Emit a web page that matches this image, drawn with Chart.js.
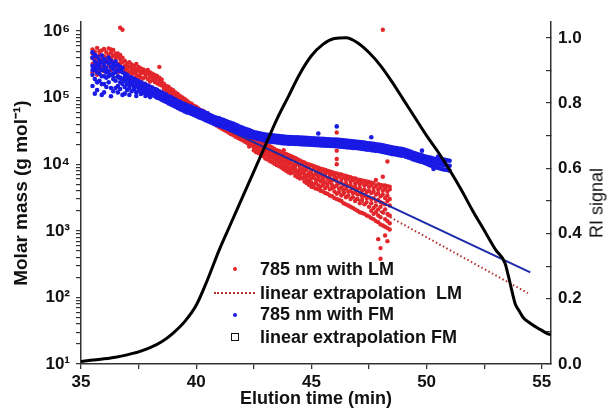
<!DOCTYPE html>
<html><head><meta charset="utf-8">
<script src="https://cdn.jsdelivr.net/npm/chart.js@4.4.1/dist/chart.umd.min.js"></script>
<style>
html,body{margin:0;padding:0;background:#fff;}
#wrap{position:relative;width:611px;height:410px;overflow:hidden;}
#c{position:absolute;left:0;top:0;}
.txt{position:absolute;font-family:"Liberation Sans",Arial,sans-serif;color:#111;white-space:pre;}
.lg{font-weight:bold;font-size:18px;line-height:20px;}
.mk{position:absolute;}
</style></head>
<body><div id="wrap"><canvas id="c" width="611" height="410"></canvas>
<div class="txt lg" style="left:260px;top:259px">785 nm with LM</div>
<div class="txt lg" style="left:260px;top:283px">linear extrapolation  LM</div>
<div class="txt lg" style="left:260px;top:304px">785 nm with FM</div>
<div class="txt lg" style="left:260px;top:327px">linear extrapolation FM</div>
<div class="mk" style="left:233px;top:267px;width:4px;height:4px;border-radius:2px;background:#e3262b"></div>
<div class="mk" style="left:214px;top:292px;width:41px;height:0;border-top:2px dotted #b0302a"></div>
<div class="mk" style="left:233px;top:313px;width:4px;height:4px;border-radius:2px;background:#1a1ae6"></div>
<div class="mk" style="left:231px;top:333px;width:6px;height:6px;border:1.3px solid #111"></div>
<div class="txt" id="riTitle" style="left:597px;top:203px;font-size:18px;transform:translate(-50%,-50%) rotate(-90deg);">RI signal</div>
</div>
<script>
// ---- data ----
// Elution time (min) and molar mass (g/mol); each row: [time, mass, mass, ...]
const lmRows = [
[35.5,3.2e5,4.6e5,2.4e5,5.3e5,3.9e5],[35.6,3.8e5,2.7e5,4.9e5,3.3e5],[35.7,3.5e5,2.2e5,5.6e5,4.1e5,2.9e5],[35.8,3.0e5,4.4e5,2.6e5,5.0e5],
[35.9,3.7e5,5.1e5,2.9e5,4.3e5],[36.0,4.2e5,3.3e5,2.5e5,5.4e5],[36.1,3.6e5,4.8e5,2.7e5,4.0e5],[36.2,4.4e5,3.1e5,5.5e5,3.7e5],
[36.3,3.9e5,2.6e5,4.7e5,5.3e5],[36.4,4.3e5,3.4e5,5.2e5,2.9e5],[36.5,3.7e5,4.6e5,2.8e5,4.1e5],[36.6,4.1e5,3.2e5,2.4e5,4.6e5],
[36.7,3.8e5,4.4e5,2.9e5,1.12e6,3.3e5],[36.8,3.4e5,4.0e5,2.6e5,1.05e6],[36.9,3.0e5,3.6e5,2.5e5,2.8e5],[37.0,3.3e5,2.7e5,2.3e5,2.95e5],
[37.1,2.9e5,3.4e5,2.45e5],[37.2,2.75e5,3.15e5,2.2e5,2.5e5],[37.3,3.0e5,2.6e5,2.35e5],[37.4,2.7e5,3.2e5,2.1e5,2.45e5],
[37.5,2.55e5,2.9e5,2.15e5],[37.6,2.75e5,2.3e5,2.0e5,2.5e5],[37.7,2.4e5,2.65e5,1.95e5],[37.8,2.55e5,2.2e5,2.05e5,2.35e5],
[37.9,2.3e5,2.6e5,1.9e5],[38.0,2.25e5,2.05e5,1.75e5,2.4e5],[38.1,2.1e5,2.3e5,1.85e5],[38.2,1.95e5,2.2e5,1.72e5,2.08e5],
[38.3,1.9e5,2.12e5,1.65e5],[38.4,1.8e5,2.0e5,2.9e5,1.58e5,1.92e5],[38.5,1.72e5,1.88e5,1.52e5],[38.6,1.62e5,1.48e5,1.36e5,1.55e5],
[38.7,1.5e5,1.42e5,1.27e5],[38.8,1.46e5,1.32e5,1.2e5,1.38e5],[38.9,1.35e5,1.26e5,1.13e5],[39.0,1.3e5,1.18e5,1.06e5,1.24e5],
[39.1,1.2e5,1.12e5,9.8e4],[39.2,1.14e5,1.02e5,9.3e4,1.08e5],[39.3,1.06e5,9.7e4,8.8e4],[39.4,1.01e5,9.1e4,8.4e4,9.5e4],
[39.5,9.6e4,8.5e4,7.9e4],[39.6,9.0e4,8.2e4,7.4e4,8.6e4],[39.7,8.4e4,7.8e4,7.0e4],[39.8,8.1e4,7.3e4,6.8e4,7.6e4],
[39.9,7.6e4,6.9e4,6.3e4],[40.0,7.3e4,6.7e4,6.0e4,7.0e4],[40.1,6.9e4,6.3e4,5.7e4],[40.2,6.5e4,6.0e4,5.4e4,6.2e4],
[40.3,6.3e4,5.6e4,5.1e4],[40.4,5.9e4,5.4e4,4.9e4,5.6e4],[40.5,5.7e4,5.1e4,4.7e4],[40.6,5.4e4,4.9e4,4.4e4,5.2e4],
[40.7,5.1e4,4.6e4,4.2e4],[40.8,4.9e4,4.4e4,4.0e4,4.65e4],[40.9,4.7e4,4.2e4,3.8e4],[41.0,4.5e4,4.0e4,3.6e4,4.3e4],
[41.1,4.2e4,3.8e4,3.45e4],[41.2,4.0e4,3.6e4,3.3e4,3.85e4],[41.3,3.9e4,3.5e4,3.15e4],[41.4,3.7e4,3.35e4,3.0e4,3.5e4],
[41.5,3.5e4,3.2e4,2.85e4],[41.6,3.4e4,3.05e4,2.75e4,3.2e4],[41.7,3.25e4,2.95e4,2.6e4],[41.8,3.1e4,2.8e4,2.5e4,2.95e4],
[41.9,3.0e4,2.7e4,2.4e4],[42.0,2.9e4,2.6e4,2.3e4,2.75e4],[42.1,2.8e4,2.5e4,2.2e4],[42.2,2.7e4,2.4e4,2.1e4,2.55e4],
[42.3,2.6e4,2.3e4,2.0e4,1.85e4],[42.4,2.5e4,2.25e4,1.95e4,2.1e4],
[42.5,2.45e4,2.2e4,1.95e4,1.8e4,1.62e4],[42.6,2.38e4,2.05e4,1.9e4,1.68e4,1.52e4],[42.7,2.28e4,2.12e4,1.83e4,1.6e4,1.47e4],
[42.8,2.1e4,1.98e4,1.77e4,1.55e4,1.4e4,2.24e4],[42.9,2.15e4,1.88e4,1.7e4,1.45e4,1.33e4],[43.0,1.98e4,1.75e4,1.56e4,1.43e4,1.22e4,1.85e4],
[43.1,1.92e4,1.64e4,1.51e4,1.36e4,1.18e4],[43.2,1.86e4,1.72e4,1.48e4,1.3e4,1.12e4,1.24e4],[43.3,1.79e4,1.57e4,1.4e4,1.27e4,1.07e4],
[43.4,1.7e4,1.6e4,1.35e4,1.19e4,1.02e4,1.45e4],[43.5,1.63e4,1.44e4,1.28e4,1.13e4,9.7e3],[43.6,1.58e4,1.49e4,1.22e4,1.06e4,9.3e3,1.35e4],
[43.7,1.52e4,1.33e4,1.17e4,1.02e4,8.9e3],[43.8,1.62e4,1.41e4,1.26e4,1.1e4,9.6e3,8.4e3],[43.9,1.43e4,1.21e4,1.07e4,9.2e3,8.0e3],
[44.0,1.38e4,1.28e4,1.1e4,9.9e3,8.6e3,7.6e3],[44.1,1.33e4,1.16e4,1.04e4,8.9e3,7.9e3,7.3e3],[44.2,1.29e4,1.2e4,9.8e3,8.7e3,7.5e3],
[44.3,1.24e4,1.09e4,9.4e3,8.3e3,7.7e3,6.7e3],[44.4,1.19e4,1.13e4,1.0e4,8.0e3,7.0e3,6.4e3],[44.5,1.14e4,9.7e3,8.8e3,7.6e3,6.6e3,6.1e3],
[44.6,1.09e4,1.01e4,8.4e3,7.3e3,6.2e3],[44.7,1.06e4,9.3e3,8.0e3,7.1e3,6.4e3,5.5e3],[44.8,1.02e4,9.6e3,8.5e3,6.8e3,5.9e3,5.2e3],
[44.9,9.9e3,8.9e3,7.4e3,6.6e3,5.6e3,4.9e3],[45.0,9.7e3,8.1e3,7.2e3,6.1e3,5.3e3,4.6e3],[45.1,9.4e3,8.6e3,6.9e3,6.3e3,5.0e3,4.5e3],
[45.2,9.1e3,7.8e3,7.1e3,5.8e3,5.2e3,4.3e3],[45.3,8.9e3,8.2e3,6.6e3,5.9e3,4.8e3,4.2e3],[45.4,8.6e3,7.5e3,6.8e3,5.5e3,4.6e3,4.0e3],
[45.5,8.4e3,7.9e3,6.3e3,5.7e3,4.9e3,3.9e3],[45.6,8.2e3,7.2e3,6.5e3,5.3e3,4.4e3,3.7e3],[45.7,8.0e3,7.6e3,6.0e3,5.1e3,4.7e3,3.6e3],
[45.8,7.8e3,6.9e3,6.2e3,5.4e3,4.2e3,3.4e3],[45.9,7.6e3,7.1e3,5.7e3,4.9e3,4.4e3,3.3e3],[46.0,7.4e3,6.6e3,5.9e3,4.6e3,3.9e3,3.1e3],
[46.1,7.3e3,6.2e3,5.5e3,4.8e3,3.6e3,3.0e3,3.0e4,2.3e4,1.6e4,1.2e4,1.0e4],
[46.2,7.1e3,6.7e3,5.2e3,4.3e3,3.8e3,2.9e3],[46.3,7.0e3,6.0e3,5.4e3,4.5e3,3.4e3,2.8e3],[46.4,6.8e3,6.3e3,4.9e3,4.1e3,3.6e3,2.6e3],
[46.5,6.7e3,5.8e3,5.1e3,4.3e3,3.2e3,2.5e3],[46.6,6.5e3,6.1e3,4.7e3,3.9e3,3.4e3,2.4e3],[46.7,6.4e3,5.5e3,4.9e3,4.0e3,3.0e3,2.3e3],
[46.8,6.2e3,5.8e3,4.5e3,3.7e3,3.2e3,2.2e3],[46.9,6.1e3,5.2e3,4.6e3,3.8e3,2.8e3,2.1e3],[47.0,5.9e3,5.5e3,4.2e3,3.5e3,3.0e3,2.0e3],
[47.1,5.8e3,5.0e3,4.4e3,3.6e3,2.6e3,1.9e3],[47.2,5.7e3,5.3e3,4.0e3,3.3e3,2.9e3,1.85e3],[47.3,5.6e3,4.8e3,4.2e3,3.4e3,2.5e3,1.8e3],
[47.4,5.5e3,5.1e3,3.8e3,3.1e3,2.7e3,1.7e3],[47.5,5.4e3,4.6e3,4.0e3,3.2e3,2.3e3,1.65e3],[47.6,5.3e3,4.9e3,3.7e3,3.0e3,2.6e3,1.55e3,2.0e3],
[47.7,5.2e3,4.4e3,3.9e3,3.1e3,2.2e3,1.5e3,1.8e3],[47.8,5.8e3,4.7e3,3.5e3,2.8e3,2.4e3,1.4e3,1.9e3],[47.9,5.0e3,4.2e3,3.7e3,2.9e3,2.1e3,1.35e3,7.5e2,1.7e3],
[48.0,4.9e3,4.5e3,3.3e3,2.7e3,2.3e3,1.25e3,5.5e2,3.8e2,1.6e3],[48.1,6.5e3,4.8e3,4.0e3,3.5e3,2.6e3,1.9e3,1.2e3,1.05e6],
[48.2,4.8e3,4.3e3,3.1e3,2.5e3,2.1e3,1.15e3,8.5e2,1.5e3],[48.3,4.7e3,3.9e3,3.4e3,2.8e3,1.8e3,1.1e3,1.1e4,7.0e2,1.4e3],
[48.4,4.6e3,4.2e3,3.0e3,2.4e3,1.7e3,1.05e3,1.3e3]
];
const fmRows = [
[35.5,3.0e5,2.2e5,4.0e5,1.5e5,4.8e5,2.6e5],[35.6,2.6e5,3.5e5,1.9e5,4.4e5,1.15e5,2.9e5],[35.7,3.2e5,2.4e5,1.3e5,4.1e5,2.8e5,1.7e5],[35.8,2.9e5,3.7e5,1.8e5,2.3e5,3.2e5],
[35.9,3.4e5,2.6e5,1.6e5,4.3e5,1.1e5,2.1e5],[36.0,3.1e5,2.1e5,3.8e5,1.2e5,2.7e5,1.6e5],[36.1,2.8e5,3.5e5,2.0e5,1.45e5,2.4e5],[36.2,3.3e5,2.5e5,4.0e5,1.7e5,2.1e5],
[36.3,2.9e5,2.2e5,3.6e5,1.4e5,1.05e5],[36.4,2.7e5,3.2e5,1.9e5,1.25e5,2.3e5],[36.5,3.0e5,2.4e5,1.8e5,3.5e5,1.4e5],[36.6,2.6e5,2.1e5,3.1e5,1.5e5,1.2e5],
[36.7,2.5e5,2.0e5,2.9e5,1.35e5,1.7e5],[36.8,2.4e5,1.9e5,2.8e5,1.6e5,1.1e5],[36.9,2.3e5,1.8e5,2.05e5,1.45e5,1.15e5],[37.0,2.2e5,1.9e5,1.6e5,1.3e5],
[37.1,2.05e5,1.78e5,1.52e5,1.4e5,1.1e5],[37.2,1.98e5,1.7e5,1.58e5,1.25e5],[37.3,1.92e5,1.74e5,1.46e5,1.33e5],[37.4,1.84e5,1.62e5,1.5e5,1.2e5,1.06e5],
[37.5,1.77e5,1.55e5,1.38e5,1.26e5],[37.6,1.7e5,1.5e5,1.34e5,1.14e5],[37.7,1.63e5,1.44e5,1.29e5,1.19e5],[37.8,1.58e5,1.37e5,1.24e5,1.06e5],
[37.9,1.52e5,1.33e5,1.17e5,1.1e5],[38.0,1.46e5,1.28e5,1.14e5,1.02e5],[38.1,1.41e5,1.21e5,1.1e5],[38.2,1.35e5,1.19e5,1.05e5,1.27e5],
[38.3,1.31e5,1.13e5,1.0e5],[38.4,1.24e5,1.1e5,9.7e4,1.17e5],[38.5,1.2e5,1.03e5,9.3e4],[38.6,1.15e5,1.01e5,8.9e4,1.08e5],
[38.7,1.11e5,9.5e4,8.6e4],[38.8,1.05e5,9.3e4,8.2e4,9.9e4],[38.9,1.02e5,8.7e4,7.9e4],[39.0,9.7e4,8.6e4,7.6e4,9.1e4],
[39.1,9.4e4,8.1e4,7.3e4],[39.2,8.9e4,7.9e4,7.0e4,8.4e4],[39.3,8.6e4,7.4e4,6.7e4],[39.4,8.2e4,7.3e4,6.5e4,7.8e4],
[39.5,8.0e4,6.9e4,6.2e4],[39.6,7.7e4,6.8e4,6.0e4,7.2e4],[39.7,7.5e4,6.5e4,5.9e4],[39.8,7.3e4,6.4e4,5.7e4,6.9e4],
[39.9,7.0e4,6.2e4,5.5e4],[40.0,6.8e4,6.1e4,5.3e4,6.5e4],[40.1,6.6e4,5.8e4,5.1e4],[40.2,6.4e4,5.6e4,4.95e4,6.0e4],
[40.3,6.2e4,5.4e4,4.8e4],[40.4,6.0e4,5.2e4,4.6e4,5.6e4],[40.5,5.8e4,5.0e4,4.45e4],[40.6,5.5e4,4.8e4,4.3e4,5.2e4],
[40.7,5.3e4,4.65e4,4.15e4],[40.8,5.1e4,4.5e4,4.0e4,4.8e4],[40.9,5.0e4,4.4e4,3.9e4],[41.0,4.9e4,4.3e4,3.8e4,4.6e4],
[41.1,4.75e4,4.2e4,3.7e4],[41.2,4.6e4,4.1e4,3.6e4,4.35e4],[41.3,4.45e4,3.95e4,3.5e4],[41.4,4.3e4,3.85e4,3.4e4,4.1e4],
[41.5,4.2e4,3.7e4,3.3e4],[41.6,4.1e4,3.6e4,3.2e4,3.85e4],[41.7,3.95e4,3.5e4,3.1e4],[41.8,3.8e4,3.4e4,3.0e4,3.6e4],
[41.9,3.65e4,3.3e4,2.9e4],[42.0,3.55e4,3.2e4,2.85e4,3.4e4],[42.1,3.45e4,3.1e4,2.75e4],[42.2,3.35e4,3.0e4,2.7e4,3.2e4],
[42.3,3.25e4,2.95e4,2.6e4],[42.4,3.15e4,2.85e4,2.55e4,3.0e4],[42.5,3.05e4,2.75e4,2.5e4],[42.6,3.0e4,2.7e4,2.45e4,2.85e4],
[42.7,2.95e4,2.65e4,2.4e4],[42.8,2.9e4,2.6e4,2.35e4,2.75e4],[42.9,2.85e4,2.55e4,2.3e4],[43.0,2.8e4,2.5e4,2.25e4,2.65e4],
[43.1,2.78e4,2.48e4,2.2e4],[43.2,2.75e4,2.46e4,2.18e4,2.6e4],[43.3,2.72e4,2.45e4,2.16e4],[43.4,2.7e4,2.42e4,2.15e4,2.55e4],
[43.5,2.68e4,2.4e4,2.12e4],[43.6,2.65e4,2.38e4,2.1e4,2.5e4],[43.7,2.62e4,2.36e4,2.08e4],[43.8,2.6e4,2.34e4,2.06e4,2.2e4],
[43.9,2.58e4,2.32e4,2.05e4],[44.0,2.56e4,2.3e4,2.04e4,2.42e4],[44.1,2.56e4,2.29e4,2.04e4],[44.2,2.55e4,2.28e4,2.03e4,2.15e4],
[44.3,2.54e4,2.27e4,2.02e4],[44.4,2.53e4,2.26e4,2.01e4,2.4e4],[44.5,2.52e4,2.25e4,2.0e4],[44.6,2.51e4,2.24e4,1.99e4,2.12e4],
[44.7,2.5e4,2.23e4,1.98e4],[44.8,2.49e4,2.22e4,1.98e4,2.36e4],[44.9,2.48e4,2.21e4,1.97e4],[45.0,2.46e4,2.2e4,1.96e4,2.08e4],
[45.1,2.45e4,2.19e4,1.95e4],[45.2,2.44e4,2.18e4,1.94e4,2.32e4],[45.3,2.43e4,2.17e4,1.93e4,2.9e4],[45.4,2.42e4,2.16e4,1.92e4,2.05e4],
[45.5,2.41e4,2.15e4,1.91e4],[45.6,2.4e4,2.14e4,1.9e4,2.28e4],[45.7,2.38e4,2.13e4,1.9e4],[45.8,2.37e4,2.12e4,1.89e4,2.0e4],
[45.9,2.36e4,2.11e4,1.88e4],[46.0,2.35e4,2.1e4,1.87e4,2.24e4],[46.1,2.34e4,2.09e4,1.86e4,3.7e4],[46.2,2.32e4,2.07e4,1.84e4,1.96e4],
[46.3,2.3e4,2.06e4,1.83e4],[46.4,2.29e4,2.04e4,1.82e4,2.18e4],[46.5,2.27e4,2.03e4,1.8e4],[46.6,2.26e4,2.01e4,1.79e4,1.9e4],
[46.7,2.24e4,2.0e4,1.78e4],[46.8,2.22e4,1.98e4,1.76e4,2.12e4],[46.9,2.2e4,1.97e4,1.75e4],[47.0,2.18e4,1.95e4,1.74e4,1.85e4],
[47.1,2.16e4,1.93e4,1.72e4],[47.2,2.14e4,1.91e4,1.7e4,2.05e4],[47.3,2.12e4,1.89e4,1.68e4],[47.4,2.09e4,1.87e4,1.66e4,1.78e4],
[47.5,2.07e4,1.85e4,1.65e4],[47.6,2.05e4,1.83e4,1.63e4,2.55e4],[47.7,2.03e4,1.81e4,1.61e4,1.72e4],[47.8,2.0e4,1.79e4,1.59e4],
[47.9,1.98e4,1.77e4,1.58e4,1.9e4],[48.0,1.96e4,1.75e4,1.56e4],[48.1,1.93e4,1.72e4,1.53e4,1.63e4],[48.2,1.89e4,1.69e4,1.5e4],
[48.3,1.86e4,1.66e4,1.48e4,1.78e4],[48.4,1.83e4,1.63e4,1.45e4],[48.5,1.79e4,1.6e4,1.42e4,1.52e4],[48.6,1.77e4,1.58e4,1.41e4],
[48.7,1.75e4,1.56e4,1.39e4,1.66e4],[48.8,1.72e4,1.54e4,1.37e4],[48.9,1.7e4,1.52e4,1.35e4,1.44e4],[49.0,1.68e4,1.5e4,1.34e4],
[49.1,1.64e4,1.46e4,1.3e4,1.56e4],[49.2,1.59e4,1.42e4,1.26e4],[49.3,1.55e4,1.38e4,1.23e4,1.31e4],[49.4,1.5e4,1.34e4,1.19e4],
[49.5,1.46e4,1.3e4,1.16e4,1.39e4],[49.6,1.42e4,1.27e4,1.13e4],[49.7,1.39e4,1.24e4,1.1e4,1.18e4],[49.8,1.36e4,1.21e4,1.08e4,1.6e4],
[49.9,1.32e4,1.18e4,1.05e4,1.26e4],[50.0,1.29e4,1.15e4,1.02e4],[50.1,1.27e4,1.12e4,9.8e3,1.05e4],[50.2,1.25e4,1.09e4,9.5e3,1.17e4],
[50.3,1.22e4,1.06e4,9.2e3,8.5e3],[50.4,1.2e4,1.03e4,9.0e3,1.12e4],[50.5,1.18e4,1.0e4,8.8e3,1.3e4],[50.6,1.2e4,9.9e3,8.6e3,1.08e4],
[50.7,1.19e4,9.8e3,8.4e3,1.06e4],[50.8,1.17e4,9.7e3,8.3e3,1.07e4],[50.9,1.15e4,9.6e3,8.2e3],[51.0,1.13e4,9.5e3,8.0e3]
];
// RI signal curve
const riTime   = [35.0,35.5,36.0,36.5,37.0,37.5,38.0,38.5,39.0,39.5,40.0,40.5,41.0,41.5,42.0,42.5,43.0,43.5,44.0,44.5,45.0,45.5,46.0,46.5,47.0,47.5,48.0,48.5,49.0,49.5,50.0,50.5,51.0,51.5,52.0,52.5,53.0,53.4,53.55,53.7,53.85,54.0,54.2,54.5,54.8,55.0,55.24,55.4];
const riSignal = [0.008,0.012,0.016,0.021,0.028,0.037,0.05,0.068,0.095,0.13,0.18,0.26,0.35,0.43,0.51,0.59,0.67,0.75,0.82,0.89,0.945,0.98,0.998,1.0,0.985,0.955,0.915,0.865,0.81,0.755,0.70,0.65,0.595,0.535,0.47,0.41,0.35,0.31,0.27,0.225,0.184,0.165,0.142,0.125,0.111,0.103,0.093,0.09];
// linear extrapolations (end points)
const lmFitTime = [35.5, 54.4];
const lmFitMass = [4.66e5, 116];
const fmFitTime = [35.5, 54.5];
const fmFitMass = [2.96e5, 238];
// ticks
const timeTicks = [35,37.5,40,42.5,45,47.5,50,52.5,55];
const massTicks = [10,20,30,40,50,60,70,80,90,100,200,300,400,500,600,700,800,900,1000,2000,3000,4000,5000,6000,7000,8000,9000,
  1e4,2e4,3e4,4e4,5e4,6e4,7e4,8e4,9e4,1e5,2e5,3e5,4e5,5e5,6e5,7e5,8e5,9e5,1e6];
const massLabels = {10:'10¹',100:'10²',1000:'10³',10000:'10⁴',100000:'10⁵',1000000:'10⁶'};
const riTicks = [0,0.1,0.2,0.3,0.4,0.5,0.6,0.7,0.8,0.9,1.0];

// ---- build ----
const flat = rows => rows.flatMap(r => r.slice(1).map(m => ({x: r[0], y: m})));
const pair = (xs, ys) => xs.map((x, i) => ({x, y: ys[i]}));
const FONT = '"Liberation Sans", Arial, sans-serif';
Chart.defaults.font.family = FONT;
const tickFont = {size: 17, weight: 'bold', family: FONT};
const axisCol = '#333';

new Chart(document.getElementById('c'), {
  type: 'scatter',
  data: {datasets: [
    {label: '785 nm with LM', data: flat(lmRows), pointRadius: 2.2, pointBorderWidth: 0, backgroundColor: '#e3262b', borderColor: '#e3262b', yAxisID: 'y', order: 3},
    {label: 'linear extrapolation  LM', type: 'line', data: pair(lmFitTime, lmFitMass), borderColor: '#b0302a', borderWidth: 2, borderDash: [1.5, 2.5], pointRadius: 0, fill: false, yAxisID: 'y', order: 4},
    {label: '785 nm with FM', data: flat(fmRows), pointRadius: 2.3, pointBorderWidth: 0, backgroundColor: '#1a1ae6', borderColor: '#1a1ae6', yAxisID: 'y', order: 1},
    {label: 'linear extrapolation FM', type: 'line', data: pair(fmFitTime, fmFitMass), borderColor: '#1b2aa8', borderWidth: 2, pointRadius: 0, fill: false, yAxisID: 'y', order: 2},
    {label: 'RI signal', type: 'line', data: pair(riTime, riSignal), borderColor: '#000', borderWidth: 3, pointRadius: 0, fill: false, cubicInterpolationMode: 'monotone', yAxisID: 'y1', order: 0}
  ]},
  options: {
    responsive: false, animation: false, devicePixelRatio: 1,
    layout: {padding: {top: 16, left: 0, right: 0, bottom: 0}},
    plugins: {legend: {display: false}, tooltip: {enabled: false}},
    scales: {
      x: {type: 'linear', position: 'bottom', min: 35, max: 55.4,
        afterBuildTicks: s => { s.ticks = timeTicks.map(v => ({value: v})); },
        afterFit: s => { s.height = 46; },
        ticks: {autoSkip: false, maxRotation: 0, padding: 3, color: '#111', font: tickFont,
          callback: v => (v % 5 === 0 ? String(v) : '')},
        grid: {drawOnChartArea: false, tickLength: 5, color: axisCol, lineWidth: 1.3},
        border: {color: axisCol, width: 1.5},
        title: {display: true, text: 'Elution time (min)', color: '#111', font: {size: 18, weight: 'bold', family: FONT}, padding: {top: 0, bottom: 0}}
      },
      y: {type: 'logarithmic', position: 'left', min: 10, max: 1.36e6,
        afterBuildTicks: s => { s.ticks = massTicks.map(v => ({value: v})); },
        afterFit: s => { s.width = 81; },
        ticks: {autoSkip: false, padding: 6, color: '#111', font: tickFont,
          callback: v => (massLabels[v] || '')},
        grid: {drawOnChartArea: false, tickLength: 5, color: axisCol, lineWidth: 1.2},
        border: {color: axisCol, width: 1.5},
        title: {display: true, text: 'Molar mass (g mol⁻¹)', color: '#111', font: {size: 19, weight: 'bold', family: FONT}, padding: {top: 10, bottom: 0}}
      },
      y1: {type: 'linear', position: 'right', min: 0, max: 1.048,
        afterBuildTicks: s => { s.ticks = riTicks.map(v => ({value: v})); },
        afterFit: s => { s.width = 60; },
        ticks: {autoSkip: false, padding: 12, color: '#111', font: tickFont,
          callback: (v, i) => (i % 2 === 0 ? v.toFixed(1) : '')},
        grid: {drawOnChartArea: false, tickLength: -5, color: axisCol, lineWidth: 1.2},
        border: {color: axisCol, width: 1.5},
        title: {display: false}
      }
    }
  }
});
</script>
</body></html>
